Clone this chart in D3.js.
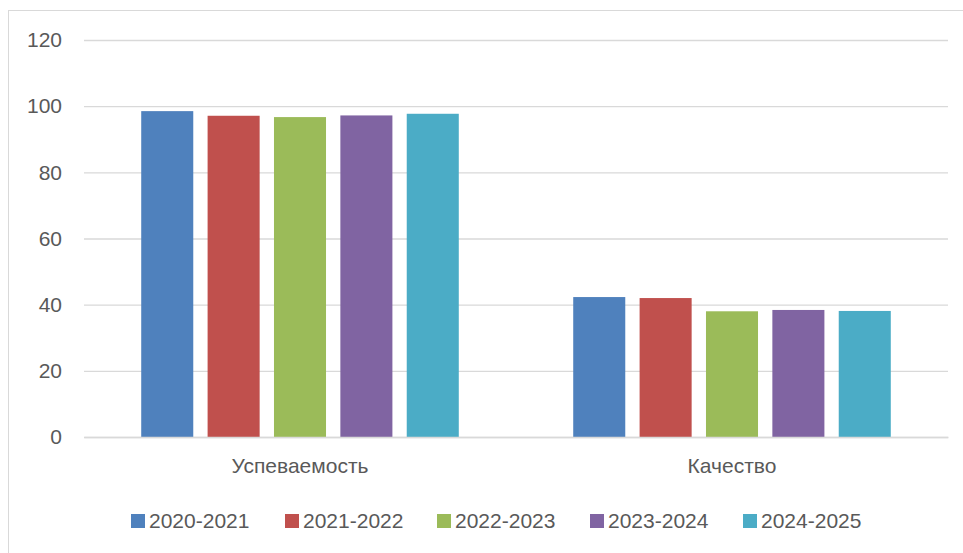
<!DOCTYPE html>
<html><head><meta charset="utf-8">
<script src="https://cdn.jsdelivr.net/npm/d3@7"></script>
<style>body{margin:0;background:#fff}svg{display:block}text{font-family:"Liberation Sans",Arial,sans-serif;fill:#595959}</style>
</head><body><svg id="c" width="963" height="553"></svg>
<script>
const categories = ["Успеваемость", "Качество"];
const seriesNames = ["2020-2021", "2021-2022", "2022-2023", "2023-2024", "2024-2025"];
const seriesValues = [
  [98.5, 42.3],
  [97.1, 42.0],
  [96.7, 38.0],
  [97.2, 38.4],
  [97.7, 38.1]
];
const yTicks = [0, 20, 40, 60, 80, 100, 120];
const colors = ["#4F81BD", "#C0504D", "#9BBB59", "#8064A2", "#4BACC6"];

const FONT = '"Liberation Sans",Arial,sans-serif';
const FS = 21;
const svg = d3.select("#c");
svg.append("rect").attr("x", 8.5).attr("y", 10.5).attr("width", 1000).attr("height", 600)
  .attr("fill", "#fff").attr("stroke", "#d9d9d9").attr("stroke-width", 1);

const L = 84, R = 948, T = 40, B = 437;
const x0 = d3.scaleBand().domain(categories).range([L, R]);
const x1 = d3.scaleBand().domain(seriesNames).range([0, x0.bandwidth()]).paddingInner(0.216).paddingOuter(0.862);
const y = d3.scaleLinear().domain([0, 120]).range([B, T]);

const g = svg.append("g");
const yAxis = d3.axisLeft(y).tickValues(yTicks).tickSize(-(R - L)).tickPadding(22);
const ya = g.append("g").attr("transform", `translate(${L},0)`).call(yAxis);
ya.select(".domain").remove();
ya.selectAll("line").attr("stroke", "#d9d9d9").attr("stroke-width", 1.3);
ya.selectAll("text").attr("font-size", FS).attr("fill", "#595959").style("font-family", FONT);

const groups = g.selectAll(".grp").data(categories).enter().append("g")
  .attr("transform", d => `translate(${x0(d)},0)`);
groups.selectAll("rect").data((d, ci) => seriesNames.map((s, si) => ({s, si, v: seriesValues[si][ci]})))
  .enter().append("rect")
  .attr("x", d => x1(d.s)).attr("width", x1.bandwidth())
  .attr("y", d => y(d.v)).attr("height", d => y(0) - y(d.v))
  .attr("fill", d => colors[d.si]);

const xAxis = d3.axisBottom(x0).tickSize(0).tickPadding(21);
const xa = g.append("g").attr("transform", `translate(0,${B})`).call(xAxis);
xa.select(".domain").attr("stroke", "#d9d9d9").attr("stroke-width", 1.3);
xa.selectAll("text").attr("font-size", FS).attr("fill", "#595959").style("font-family", FONT);

const legendX = [131, 285, 437, 590, 743];
const lg = svg.append("g");
seriesNames.forEach((s, i) => {
  lg.append("rect").attr("x", legendX[i]).attr("y", 514).attr("width", 14).attr("height", 14).attr("fill", colors[i]);
  lg.append("text").attr("x", legendX[i] + 18).attr("y", 528).attr("font-size", FS).style("font-family", FONT).text(s);
});
</script></body></html>
